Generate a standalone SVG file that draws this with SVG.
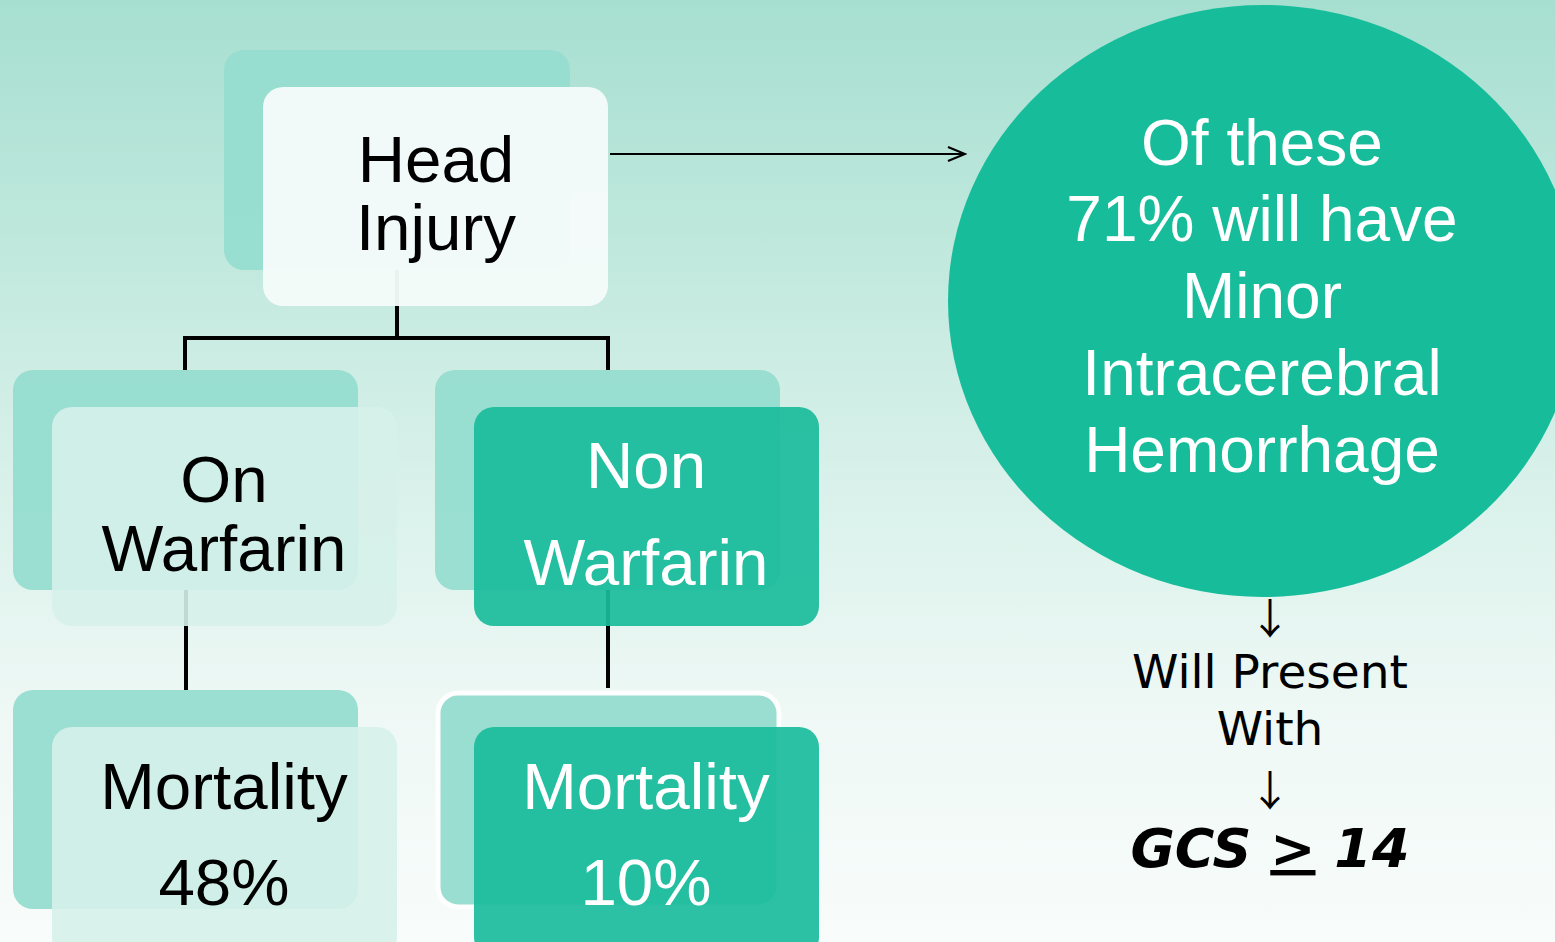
<svg xmlns="http://www.w3.org/2000/svg" width="1555" height="942" viewBox="0 0 1555 942">
<defs>
<linearGradient id="bg" x1="0" y1="0" x2="0" y2="1">
<stop offset="0" stop-color="#a6dfd0"/>
<stop offset="0.45" stop-color="#d3efe7"/>
<stop offset="0.75" stop-color="#eef8f5"/>
<stop offset="1" stop-color="#f8fcfb"/>
</linearGradient>
<marker id="chev" markerWidth="20" markerHeight="20" refX="18" refY="10" orient="auto" markerUnits="userSpaceOnUse">
<path d="M1,3 L18,10 L1,17" fill="none" stroke="#000" stroke-width="2.2"/>
</marker>
<style>
.back{fill:#96ddd0;opacity:0.95}
.light{fill:#f5fbfa;opacity:0.96}
.pale{fill:#d6f1ea;opacity:0.9}
.teal{fill:#1abc9c;opacity:0.92}
.t{font-family:"Liberation Sans",Arial,sans-serif;font-size:65.5px;text-anchor:middle}
.c{font-size:64px}
.dk{fill:#000}
.wh{fill:#fff}
.conn{stroke:#000;stroke-width:4;fill:none}
.v{font-family:"DejaVu Sans",Verdana,sans-serif;text-anchor:middle;fill:#000}
.arr{font-family:"Noto Sans CJK SC",sans-serif;text-anchor:middle;fill:#000;font-size:42px}
</style>
</defs>
<rect x="0" y="0" width="1555" height="942" fill="url(#bg)"/>
<g id="connectors">
<path class="conn" d="M397,270 V338 M185,338 H608 M185,336 V370 M608,336 V370"/>
<path class="conn" d="M186,590 V690 M608,590 V688"/>
<path d="M610,154 H965" stroke="#000" stroke-width="2" fill="none" marker-end="url(#chev)"/>
</g>
<g id="head-injury">
<rect class="back" x="224" y="50" width="346" height="220" rx="20"/>
<rect class="light" x="263" y="87" width="345" height="219" rx="20"/>
<text class="t dk" x="436" y="182">Head</text>
<text class="t dk" x="436" y="250">Injury</text>
</g>
<g id="on-warfarin">
<rect class="back" x="13" y="370" width="345" height="220" rx="20"/>
<rect class="pale" x="52" y="407" width="345" height="219" rx="20"/>
<text class="t dk" x="224" y="502">On</text>
<text class="t dk" x="224" y="571">Warfarin</text>
</g>
<g id="non-warfarin">
<rect class="back" x="435" y="370" width="345" height="220" rx="20"/>
<rect class="teal" x="474" y="407" width="345" height="219" rx="20"/>
<text class="t wh" x="646" y="488">Non</text>
<text class="t wh" x="646" y="585">Warfarin</text>
</g>
<g id="mortality-48">
<rect class="back" x="13" y="690" width="345" height="219" rx="20"/>
<rect class="pale" x="52" y="727" width="345" height="230" rx="20"/>
<text class="t dk" x="224" y="809">Mortality</text>
<text class="t dk" x="224" y="905">48%</text>
</g>
<g id="mortality-10">
<rect class="back" x="438" y="693" width="341" height="214" rx="20" stroke="#fff" stroke-width="5"/>
<rect class="teal" x="474" y="727" width="345" height="230" rx="20"/>
<text class="t wh" x="646" y="809">Mortality</text>
<text class="t wh" x="646" y="905">10%</text>
</g>
<g id="ich-circle">
<ellipse cx="1263" cy="301" rx="315" ry="296" fill="#17bd9b"/>
<text class="t c wh" x="1262" y="165">Of these</text>
<text class="t c wh" x="1262" y="241">71% will have</text>
<text class="t c wh" x="1262" y="318">Minor</text>
<text class="t c wh" x="1262" y="395">Intracerebral</text>
<text class="t c wh" x="1262" y="472">Hemorrhage</text>
</g>
<g id="presentation">
<text class="arr" x="1270" y="634">↓</text>
<text class="v" x="1270" y="688" font-size="47">Will Present</text>
<text class="v" x="1270" y="745" font-size="47">With</text>
<text class="arr" x="1270" y="806">↓</text>
</g>
<g id="gcs">
<text class="v" x="1270" y="867" font-size="54" font-weight="bold" font-style="italic">GCS <tspan text-decoration="underline">&gt;</tspan> 14</text>
</g>
</svg>
